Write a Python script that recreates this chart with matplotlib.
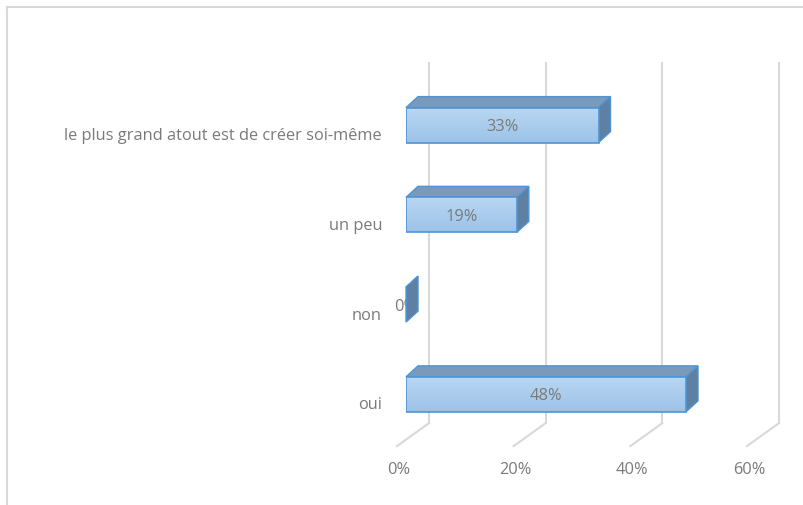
import numpy as np
import matplotlib
matplotlib.use("Agg")
import matplotlib.pyplot as plt
from matplotlib.patches import Rectangle, Polygon
from matplotlib.lines import Line2D
from matplotlib.transforms import ScaledTranslation, IdentityTransform, blended_transform_factory
from matplotlib.colors import LinearSegmentedColormap

# answers, bottom to top
categories = ["oui", "non", "un peu", "le plus grand atout est de créer soi-même"]
values = [48, 0, 19, 33]
ticks = [0, 20, 40, 60]
tick_labels = ["0%", "20%", "40%", "60%"]

plt.rcParams['font.family'] = ['Open Sans', 'DejaVu Sans']
fs = 11.8

fig = plt.figure(figsize=(8.04, 5.05), dpi=100)
fig.patch.set_facecolor("white")
ax = fig.add_axes([0.50498, 0.1302, 0.43532, 0.7109])
ax.set_xlim(0, 60)
ax.set_ylim(-0.5, 3.5)
ax.set_autoscale_on(False)
ax.axis("off")

# shift something by a few pixels on top of a given transform
def shifted(trans, dx, dy):
    return trans + ScaledTranslation(dx / fig.dpi, dy / fig.dpi, fig.dpi_scale_trans)

grid_c = "#d9d9d9"
text_c = "#7a7a7a"
mixed = blended_transform_factory(ax.transData, ax.transAxes)

# back wall gridlines and the floor lines coming forward
back_dx = 23
front_dx = -9
for t, lab in zip(ticks, tick_labels):
    ax.plot([t, t], [0.045, 1.048], color=grid_c, lw=1.5,
            transform=shifted(mixed, back_dx, 0), clip_on=False, zorder=1)
    p_back = shifted(mixed, back_dx, 0).transform((t, 0.045))
    p_front = shifted(mixed, front_dx, 0).transform((t, -0.019))
    ax.add_line(Line2D([p_back[0], p_front[0]], [p_back[1], p_front[1]],
                       color=grid_c, lw=1.5, transform=IdentityTransform(),
                       clip_on=False, zorder=1))
    ax.text(t, -0.083, lab, transform=shifted(mixed, -7, -1), ha="center",
            va="center", fontsize=fs, color=text_c)

# 3d-looking bars
h = 0.39
depth_dx, depth_dy = 12, 11
face_cmap = LinearSegmentedColormap.from_list("face", ["#bad7f2", "#9cc3e8"])
edge_c = "#4f94d4"
top_c = "#7a9abb"
side_c = "#5d80a3"
grad = np.linspace(0, 1, 64).reshape(-1, 1)

for i, (cat, val) in enumerate(zip(categories, values)):
    y0, y1 = i - h / 2, i + h / 2

    # value label first so a thin bar can sit on it
    ax.text(val / 2, i, f"{val}%", transform=shifted(ax.transData, 0, -2),
            ha="center", va="center", fontsize=fs, color=text_c, zorder=3)

    a = ax.transData.transform((0, y1))
    b = ax.transData.transform((val, y1))
    c = ax.transData.transform((val, y0))
    d = np.array([depth_dx, depth_dy])
    top = Polygon([a, b, b + d, a + d], closed=True, transform=IdentityTransform(),
                  facecolor=top_c, edgecolor=edge_c, lw=1.0, zorder=4, clip_on=False)
    side = Polygon([c, b, b + d, c + d], closed=True, transform=IdentityTransform(),
                   facecolor=side_c, edgecolor=edge_c, lw=1.0, zorder=4, clip_on=False)
    ax.add_patch(top)
    ax.add_patch(side)

    front = Rectangle((0, y0), val, h, facecolor="none", edgecolor=edge_c,
                      lw=1.2, zorder=5)
    ax.add_patch(front)
    if val > 0:
        im = ax.imshow(grad, extent=(0, val, y0, y1), aspect="auto",
                       cmap=face_cmap, origin="upper", zorder=4.5)
        im.set_clip_path(front)
        # keep the value label above the face
        ax.text(val / 2, i, f"{val}%", transform=shifted(ax.transData, 0, -2),
                ha="center", va="center", fontsize=fs, color=text_c, zorder=6)

    ax.text(0, i, cat, transform=shifted(ax.transData, -24, -11), ha="right",
            va="center", fontsize=fs, color=text_c)

ax.set_xlim(0, 60)
ax.set_ylim(-0.5, 3.5)

# chart area border (top and left edges)
fig.add_artist(Line2D([7 / 804, 1], [1 - 7 / 505, 1 - 7 / 505], color=grid_c,
                      lw=1.5, transform=fig.transFigure))
fig.add_artist(Line2D([7.5 / 804, 7.5 / 804], [0, 1 - 7 / 505], color=grid_c,
                      lw=1.5, transform=fig.transFigure))

fig.savefig("out.png", dpi=100, facecolor="white")
